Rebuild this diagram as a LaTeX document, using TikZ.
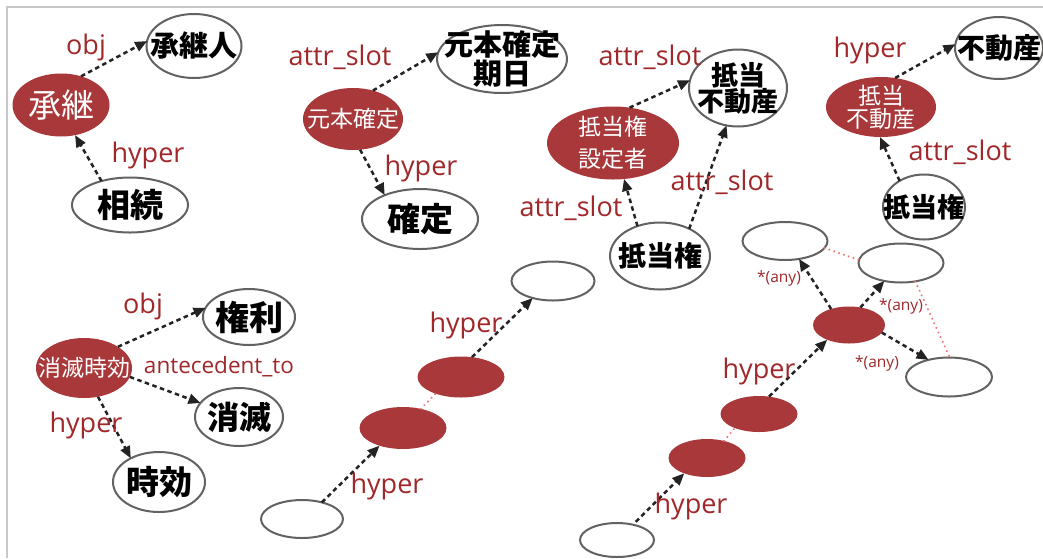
\documentclass[tikz,border=0pt]{standalone}
\usepackage{fontspec}
\usetikzlibrary{shapes.geometric,arrows.meta}
\newfontfamily\cjkfont{Noto Sans CJK JP}
\newfontfamily\lblfamily{Open Sans}
\newcommand\CjkR[2]{\cjkfont\fontsize{#1}{#2}\selectfont}
\newcommand\LblF[1]{\lblfamily\fontsize{#1}{#1}\selectfont}
\definecolor{nodered}{RGB}{168,56,58}
\definecolor{lblred}{RGB}{160,40,42}
\definecolor{ellgray}{RGB}{100,98,96}
\definecolor{arrgray}{RGB}{35,35,35}
\definecolor{pinkdot}{RGB}{240,115,115}
\definecolor{framegray}{RGB}{200,200,200}
\tikzset{
  ell/.style={ellipse, inner sep=0pt, outer sep=0pt},
  wn/.style={ell, draw=ellgray, line width=2pt, fill=white},
  rn/.style={ell, fill=nodered},
  bt/.style={font=\CjkR{#1}{#1}\bfseries, text=black, align=center, inner sep=0pt},
  wt/.style={font=\CjkR{#1}{#1}, text=white, align=center, inner sep=0pt},
  lbl/.style={text=lblred, font=\LblF{#1}, inner sep=0pt},
  arr/.style={-{Triangle[length=12pt,width=10pt]}, dash pattern=on 4.5pt off 3.5pt, line width=2.5pt, draw=arrgray},
  pd/.style={draw=pinkdot, line width=2.2pt, dash pattern=on 0.1pt off 5pt, line cap=round}
}
\begin{document}
\begin{tikzpicture}[x=1pt,y=-1pt]
\useasboundingbox (0,0) rectangle (1043,558);
\fill[white] (0,0) rectangle (1043,558);
\draw[framegray, line width=1.5pt] (7,558) -- (7,7) -- (1043,7);

% --- group 1: 承継
\node[wn, minimum width=95pt, minimum height=64pt, label={[bt=29]center:承継人}] (shoukeinin) at (194,46) {};
\node[rn, minimum width=97pt, minimum height=63pt, label={[wt=33]center:承継}] (shoukei) at (61,105) {};
\node[wn, minimum width=116pt, minimum height=55pt, label={[bt=33]center:相続}] (souzoku) at (130,205) {};
\draw[arr] (shoukei.55) -- (shoukeinin.174);
\draw[arr] (souzoku.140) -- (shoukei.295);
\node[lbl=27] (l1) at (86,47) {obj};
\node[lbl=27] (l2) at (148,155) {hyper};

% --- group 2: 元本確定
\node[rn, minimum width=100pt, minimum height=62pt, label={[wt=23]center:元本確定}] (gkt) at (353,119) {};
\node[wn, minimum width=130pt, minimum height=68pt, label={[font=\CjkR{29}{25}\bfseries, align=center, inner sep=0pt]center:{元本確定\\期日}}] (gktk) at (502,59) {};
\node[wn, minimum width=116pt, minimum height=60pt, label={[bt=33]center:確定}] (kakutei) at (420,219) {};
\draw[arr] (gkt.55) -- (gktk.174);
\draw[arr] (gkt.283) -- (kakutei.146);
\node[lbl=27] (l3) at (340,57) {attr\_slot};
\node[lbl=27] (l4) at (421,168) {hyper};

% --- group 3: 抵当権
\node[rn, minimum width=132pt, minimum height=73pt, label={[font=\CjkR{23}{32}, text=white, align=center, inner sep=0pt]center:{抵当権\\設定者}}] (tts) at (613,143) {};
\node[wn, minimum width=98pt, minimum height=77pt, label={[font=\CjkR{27}{26}\bfseries, align=center, inner sep=0pt]center:{抵当\\不動産}}] (tfd1) at (738,88) {};
\node[wn, minimum width=100pt, minimum height=67pt, label={[bt=28]center:抵当権}] (tk1) at (660,256) {};
\draw[arr] (tts.65) -- (tfd1.171);
\draw[arr] (tk1.127) -- (tts.287);
\draw[arr] (tk1.43) -- (tfd1.253);
\node[lbl=27] (l5) at (650,57) {attr\_slot};
\node[lbl=27] (l6) at (722,182) {attr\_slot};
\node[lbl=27] (l7) at (571,208) {attr\_slot};

% --- group 4: 抵当不動産
\node[rn, minimum width=110pt, minimum height=60pt, label={[font=\CjkR{23}{23}, text=white, align=center, inner sep=0pt]center:{抵当\\不動産}}] (tfd2) at (881,107) {};
\node[wn, minimum width=88pt, minimum height=62pt, label={[bt=28]center:不動産}] (fd) at (999,48) {};
\node[wn, minimum width=82pt, minimum height=65pt, label={[bt=27]center:抵当権}] (tk2) at (924,207) {};
\draw[arr] (tfd2.64) -- (fd.175);
\draw[arr] (tk2.133) -- (tfd2.268);
\node[lbl=27] (l8) at (870,50) {hyper};
\node[lbl=27] (l9) at (960,152) {attr\_slot};

% --- group 5: 消滅時効
\node[rn, minimum width=96pt, minimum height=60pt, label={[wt=23]center:消滅時効}] (sjk) at (84,368) {};
\node[wn, minimum width=92pt, minimum height=56pt, label={[bt=34]center:権利}] (kenri) at (249,317) {};
\node[wn, minimum width=88pt, minimum height=58pt, label={[bt=32]center:消滅}] (shoumetsu) at (239,417) {};
\node[wn, minimum width=92pt, minimum height=60pt, label={[bt=33]center:時効}] (jikou) at (159,482) {};
\draw[arr] (sjk.32) -- (kenri.168);
\draw[arr] (sjk.349) -- (shoumetsu.160);
\draw[arr] (sjk.296) -- (jikou.140);
\node[lbl=27] (l10) at (143,306) {obj};
\node[lbl=22.5] (l11) at (219,367) {antecedent\_to};
\node[lbl=27] (l12) at (86,425) {hyper};

% --- group 6: middle chain
\node[wn, minimum width=82pt, minimum height=38pt] (ma) at (302,519) {};
\node[rn, minimum width=87pt, minimum height=42pt] (mb) at (403,428) {};
\node[rn, minimum width=87pt, minimum height=41pt] (mc) at (461,377) {};
\node[wn, minimum width=83pt, minimum height=39pt] (md) at (553,281) {};
\draw[arr] (ma.40) -- (mb.217);
\draw[pd] (mb.47) -- (mc.213);
\draw[arr] (mc.61) -- (md.220);
\node[lbl=27] (l13) at (387,486) {hyper};
\node[lbl=27] (l14) at (466,325) {hyper};

% --- group 7: right chain
\node[wn, minimum width=74pt, minimum height=34pt] (re) at (617,540) {};
\node[rn, minimum width=77pt, minimum height=38pt] (rf) at (707,458) {};
\node[rn, minimum width=77pt, minimum height=36pt] (rg) at (759,414) {};
\node[rn, minimum width=72pt, minimum height=37pt] (rh) at (849,325) {};
\node[wn, minimum width=85pt, minimum height=38pt] (ri) at (785,241) {};
\node[wn, minimum width=85pt, minimum height=39pt] (rj) at (901,263) {};
\node[wn, minimum width=86pt, minimum height=39pt] (rk) at (949,377) {};
\draw[arr, shorten <=4pt] (re.44) -- (rf.214);
\draw[pd] (rf.45) -- (rg.210);
\draw[arr] (rg.60) -- (rh.214);
\draw[arr] (rh.138) -- (ri.308);
\draw[arr] (rh.57) -- (rj.227);
\draw[arr] (rh.347) -- (rk.140);
\draw[pd] (ri.350) -- (rj.176);
\draw[pd] (rj.308) -- (rk.88);
\node[lbl=27] (l15) at (759,371) {hyper};
\node[lbl=27] (l16) at (691,506) {hyper};
\node[lbl=15.5] (l17) at (779,278) {*(any)};
\node[lbl=15.5] (l18) at (901,306) {*(any)};
\node[lbl=15.5] (l19) at (877,363) {*(any)};
\end{tikzpicture}
\end{document}
